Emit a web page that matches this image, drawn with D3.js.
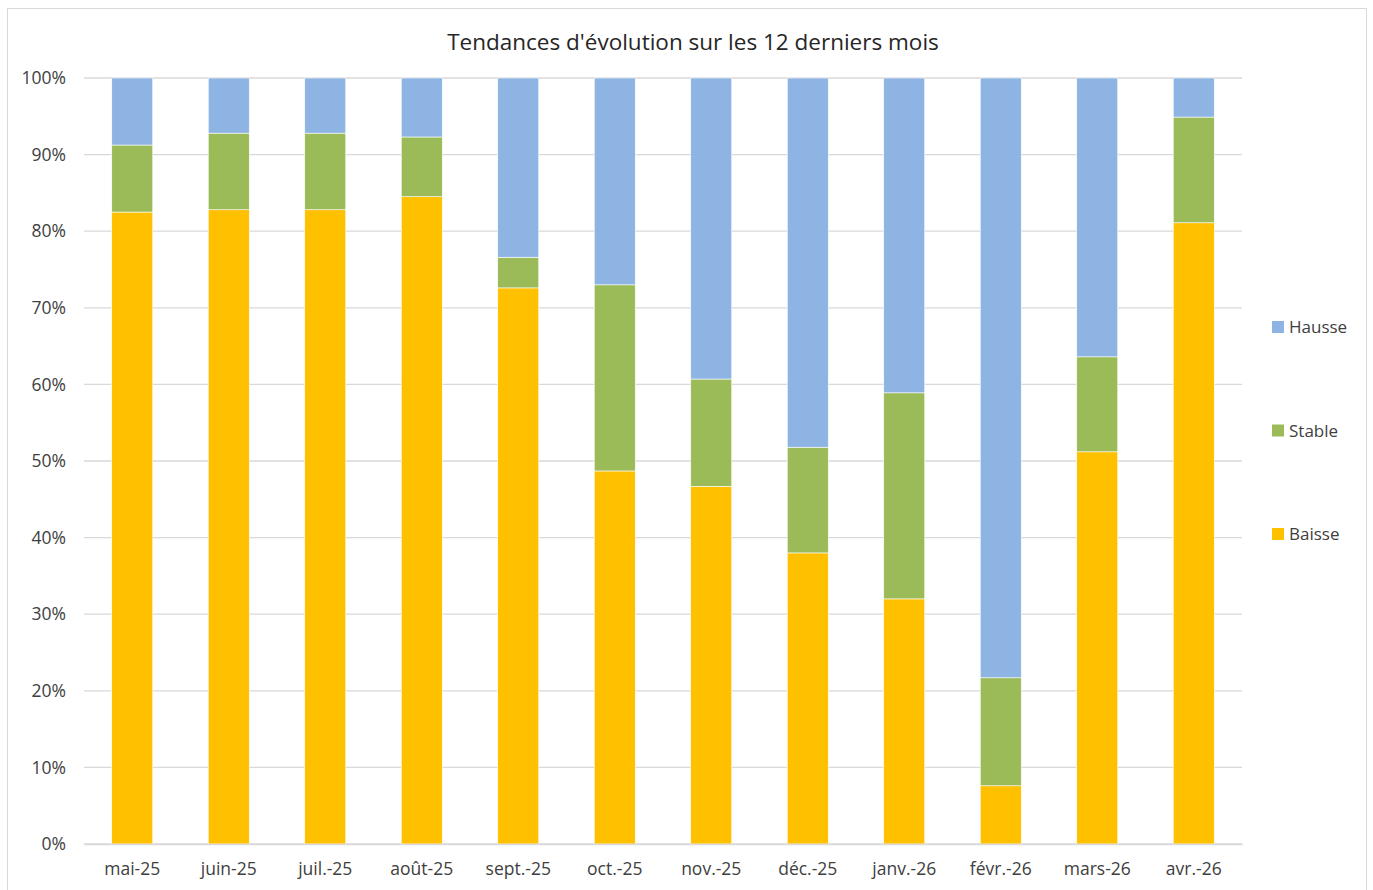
<!DOCTYPE html>
<html><head><meta charset="utf-8">
<script src="https://cdn.jsdelivr.net/npm/d3@7"></script>
<style>body{margin:0;background:#fff;font-family:"Open Sans","Noto Sans",sans-serif;}</style>
</head><body><svg id="c" width="1373" height="890"></svg>
<script>
const categories = ["mai-25","juin-25","juil.-25","août-25","sept.-25","oct.-25","nov.-25","déc.-25","janv.-26","févr.-26","mars-26","avr.-26"];
const baisse = [82.5, 82.8, 82.8, 84.5, 72.6, 48.7, 46.7, 38.0, 32.0, 7.6, 51.2, 81.1];
const stable = [8.75, 10.0, 10.0, 7.8, 4.0, 24.3, 14.0, 13.8, 26.9, 14.1, 12.4, 13.8];
const hausse = categories.map((c,i)=>100 - baisse[i] - stable[i]);
const seriesNames = ["Baisse","Stable","Hausse"];
const colors = {Baisse:"#FFC000", Stable:"#9BBB59", Hausse:"#8DB4E2"};
const yTicks = [0,10,20,30,40,50,60,70,80,90,100];
const title = "Tendances d'évolution sur les 12 derniers mois";

const svg = d3.select("#c");
svg.append("rect").attr("x",7.5).attr("y",8.5).attr("width",1359).attr("height",900)
  .attr("fill","#fff").attr("stroke","#d9d9d9").attr("stroke-width",1);

const pLeft=84, pRight=1242, pTop=78, pBottom=844;
const x = d3.scaleBand().domain(categories).range([pLeft,pRight]).paddingInner(0.575).paddingOuter(0.2875);
const y = d3.scaleLinear().domain([0,100]).range([pBottom,pTop]);

// gridlines
svg.append("g").selectAll("line").data(yTicks).join("line")
  .attr("x1",pLeft).attr("x2",pRight).attr("y1",d=>y(d)).attr("y2",d=>y(d))
  .attr("stroke","#d9d9d9").attr("stroke-width",1.3);

const table = categories.map((c,i)=>({cat:c, Baisse:baisse[i], Stable:stable[i], Hausse:hausse[i]}));
const stack = d3.stack().keys(seriesNames)(table);
svg.append("g").selectAll("g").data(stack).join("g").attr("fill",d=>colors[d.key])
  .selectAll("rect").data(d=>d).join("rect")
  .attr("x",d=>x(d.data.cat)).attr("width",x.bandwidth())
  .attr("y",d=>y(d[1])).attr("height",d=>y(d[0])-y(d[1]))
  .attr("stroke","#fff").attr("stroke-width",0.6);

// axes
const yAxis = d3.axisLeft(y).tickValues(yTicks).tickFormat(d=>d+"%").tickSize(0).tickPadding(18);
const gy = svg.append("g").attr("transform",`translate(${pLeft},0)`).call(yAxis);
gy.select(".domain").remove();
gy.selectAll("text").attr("font-size",17.5).attr("fill","#404040").attr("font-family","'Open Sans',sans-serif");

const xAxis = d3.axisBottom(x).tickSize(0).tickPadding(19);
const gx = svg.append("g").attr("transform",`translate(0,${pBottom})`).call(xAxis);
gx.select(".domain").attr("stroke","#d9d9d9").attr("stroke-width",1.3);
gx.selectAll("text").attr("font-size",17.5).attr("fill","#404040").attr("font-family","'Open Sans',sans-serif");

svg.append("text").attr("x",693).attr("y",50).attr("text-anchor","middle")
  .attr("font-size",22.5).attr("fill","#262626").text(title);

// legend
const legendItems = ["Hausse","Stable","Baisse"];
const ly = d3.scalePoint().domain(legendItems).range([327,534]);
const lg = svg.append("g").selectAll("g").data(legendItems).join("g")
  .attr("transform",d=>`translate(1272,${ly(d)})`);
lg.append("rect").attr("x",0).attr("y",-6).attr("width",12).attr("height",12).attr("fill",d=>colors[d]);
lg.append("text").attr("x",17).attr("y",6).attr("font-size",17).attr("fill","#404040").text(d=>d);
</script></body></html>
